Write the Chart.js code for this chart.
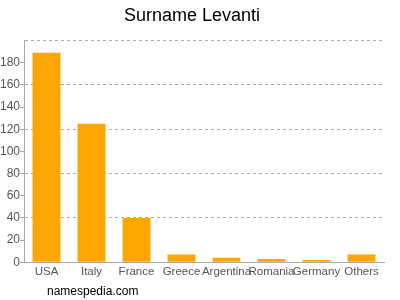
<!DOCTYPE html>
<html>
<head>
<meta charset="utf-8">
<script src="https://cdn.jsdelivr.net/npm/chart.js@4"></script>
<style>
  body { margin: 0; background: #fff; }
  #wrap { position: relative; width: 400px; height: 300px; }
  #site {
    position: absolute; left: 47px; top: 284px;
    font: 12px "Liberation Sans", Arial, sans-serif; color: #000;
  }
</style>
</head>
<body>
<div id="wrap">
  <canvas id="surnameChart" width="400" height="300"></canvas>
  <div id="site">namespedia.com</div>
</div>
<script>
// countries and counts for the surname
const countries = ["USA", "Italy", "France", "Greece", "Argentina", "Romania", "Germany", "Others"];
const counts = [189, 125, 40, 7, 4, 3, 2, 7];
const yTicks = [0, 20, 40, 60, 80, 100, 120, 140, 160, 180, 200];

const ctx = document.getElementById("surnameChart");

new Chart(ctx, {
  type: "bar",
  data: {
    labels: countries,
    datasets: [
      {
        label: "Surname Levanti",
        data: counts,
        backgroundColor: "#FFA500",
        barPercentage: 0.62,
        categoryPercentage: 1,
      },
    ],
  },
  options: {
    responsive: false,
    animation: false,
    layout: { padding: { left: 0, right: 16, top: 0, bottom: 18 } },
    plugins: {
      legend: { display: false },
      tooltip: { enabled: false },
      title: {
        display: true,
        text: "Surname Levanti",
        color: "#000",
        font: { family: "Liberation Sans", size: 18, weight: "normal" },
        padding: { top: 5, bottom: 14 },
      },
    },
    scales: {
      x: {
        grid: { display: false, drawTicks: false, tickLength: 0 },
        border: { color: "#aaa" },
        ticks: {
          color: "#555",
          font: { family: "Liberation Sans", size: 11.5 },
          autoSkip: false,
          maxRotation: 0,
          padding: 3,
        },
      },
      y: {
        min: 0,
        max: 200,
        afterBuildTicks(axis) {
          axis.ticks = yTicks.map((v) => ({ value: v }));
        },
        border: { color: "#aaa", dash: [3, 3] },
        grid: {
          color: (c) => (c.tick && c.tick.value % 40 === 0 && c.tick.value > 0 ? "#aaa" : "transparent"),
          tickColor: (c) => (c.tick && c.tick.value === 200 ? "transparent" : "#aaa"),
          tickLength: 4,
          tickBorderDash: [],
        },
        ticks: {
          color: "#555",
          font: { family: "Liberation Sans", size: 12 },
          padding: 0,
          callback: (v) => (v === 200 ? "" : v),
        },
      },
    },
  },
});
</script>
</body>
</html>
